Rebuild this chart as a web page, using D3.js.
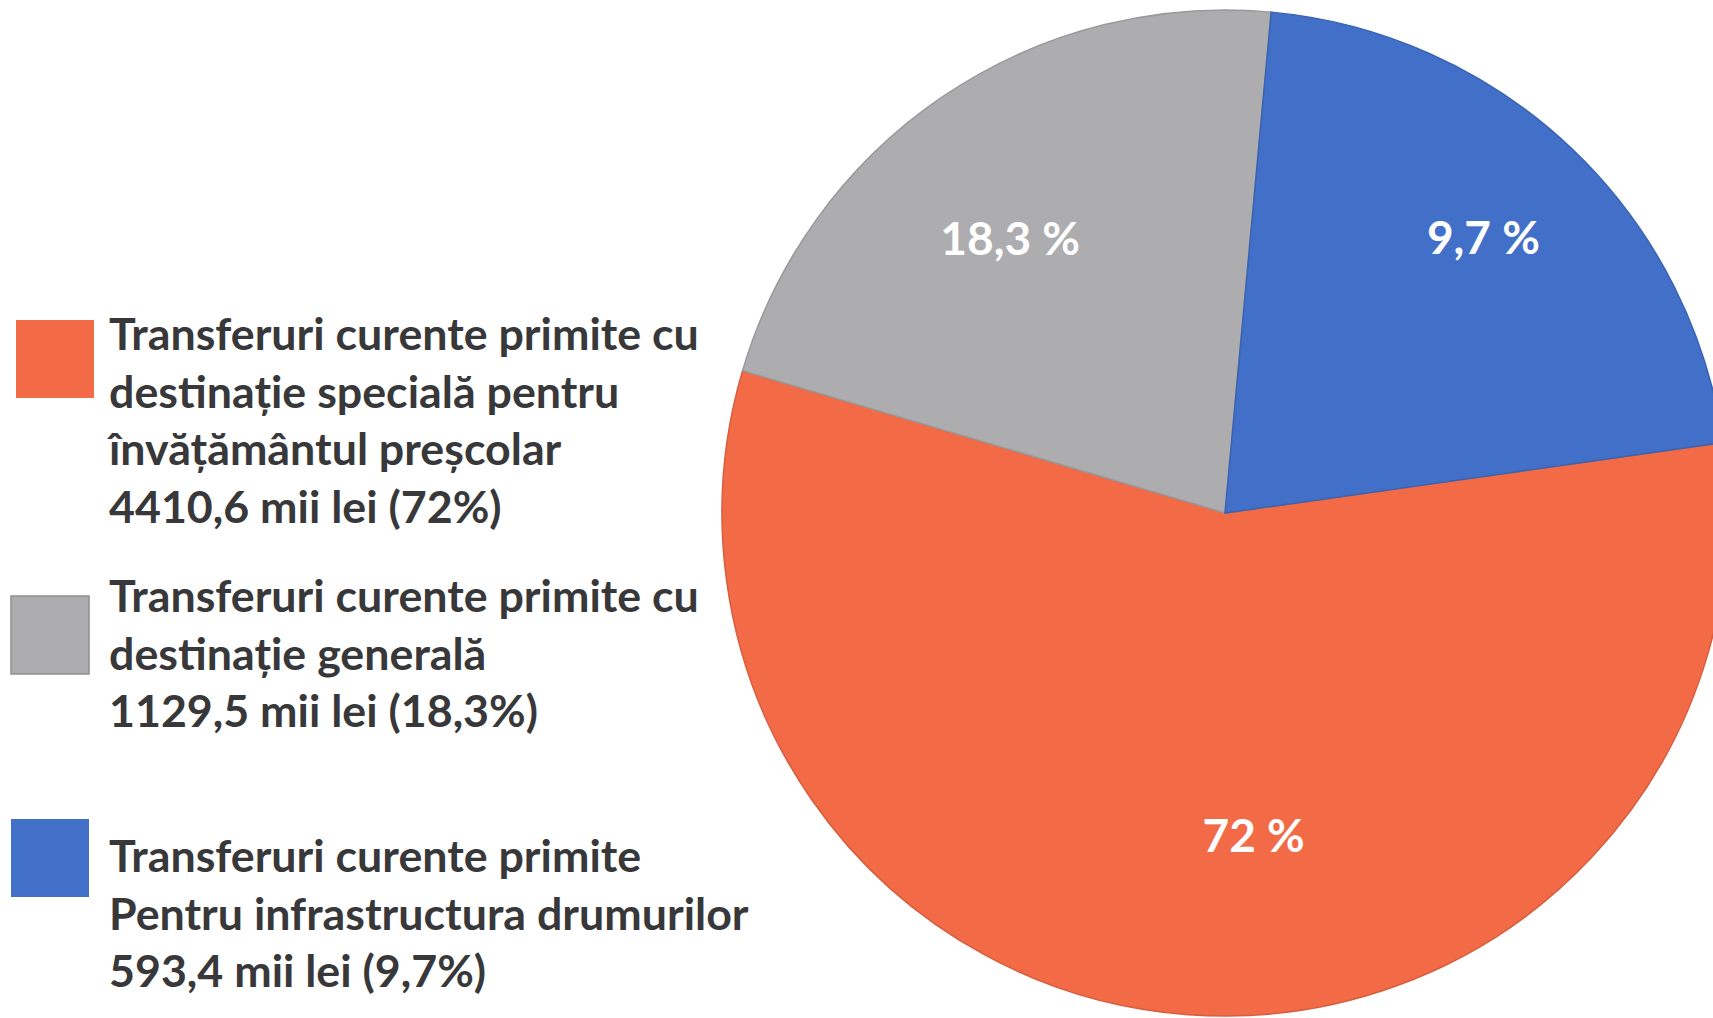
<!DOCTYPE html>
<html>
<head>
<meta charset="utf-8">
<script src="https://cdn.jsdelivr.net/npm/d3@7/dist/d3.min.js"></script>
<style>
  body { margin: 0; background: #fff; }
  svg { display: block; }
  .legend text { font-family: Lato, "Open Sans", sans-serif; font-weight: 700; fill: #38383a; }
  .slice-label { font-family: Lato, "Open Sans", sans-serif; font-weight: 700; fill: #fff; }
</style>
</head>
<body>
<div id="chart"></div>
<script>
// legend text, one array of lines per category
var legendLines = [
  ["Transferuri curente primite cu", "destinație specială pentru", "învățământul preșcolar"],
  ["Transferuri curente primite cu", "destinație generală"],
  ["Transferuri curente primite", "Pentru infrastructura drumurilor"]
];
var amounts = [4410.6, 1129.5, 593.4];          // mii lei
var legendPct = ["72%", "18,3%", "9,7%"];
var sliceLabels = ["72 %", "18,3 %", "9,7 %"];
// share of the circle each slice takes as it is drawn in the picture
var drawnShares = [56.8, 21.9, 21.3];
var colors = ["#F26B46", "#ADACAE", "#4270C8"];

var width = 1713, height = 1018;

var ro = d3.formatLocale({decimal: ",", thousands: "", grouping: [3], currency: ["", ""]});
var amountFormat = ro.format(".1f");

var svg = d3.select("#chart").append("svg")
    .attr("width", width)
    .attr("height", height);

svg.append("rect").attr("width", width).attr("height", height).attr("fill", "#fff");

// pie
var cx = 1225, cy = 513, radius = 503;
var deg = Math.PI / 180;

var pie = d3.pie()
    .sort(null)
    .value(function(d) { return d; })
    .startAngle(81.95 * deg)
    .endAngle(81.95 * deg + 2 * Math.PI);

var arc = d3.arc().innerRadius(0).outerRadius(radius);
var labelArc = d3.arc().innerRadius(radius * 0.69).outerRadius(radius * 0.69);

var arcs = pie(drawnShares);

var g = svg.append("g").attr("transform", "translate(" + cx + "," + cy + ")");

g.selectAll(".slice")
  .data(arcs)
  .enter().append("path")
    .attr("class", "slice")
    .attr("d", arc)
    .attr("fill", function(d, i) { return colors[i]; })
    .attr("stroke", function(d, i) { return d3.color(colors[i]).darker(0.35); })
    .attr("stroke-width", 1.5);

// small nudges so the labels sit where the picture has them
var labelNudge = [[54, -23], [-20, 13], [19, -24]];

g.selectAll(".slice-label")
  .data(arcs)
  .enter().append("text")
    .attr("class", "slice-label")
    .attr("transform", function(d, i) {
      var c = labelArc.centroid(d);
      return "translate(" + (c[0] + labelNudge[i][0]) + "," + (c[1] + labelNudge[i][1]) + ")";
    })
    .attr("text-anchor", "middle")
    .attr("dy", "0.35em")
    .style("font-size", "46px")
    .text(function(d, i) { return sliceLabels[i]; });

// legend
var swatchX = [16, 11, 11],
    swatchY = [320, 596, 819],
    swatchSize = 78,
    textX = 109,
    firstBaseline = [350, 612, 872],
    lineHeight = 57.5,
    targetWidth = 590; // width of "Transferuri curente primite cu" in the picture

var legend = svg.append("g").attr("class", "legend");

legend.selectAll("rect")
  .data(colors)
  .enter().append("rect")
    .attr("x", function(d, i) { return swatchX[i]; })
    .attr("y", function(d, i) { return swatchY[i]; })
    .attr("width", swatchSize)
    .attr("height", swatchSize)
    .attr("fill", function(d) { return d; })
    .attr("stroke", function(d, i) { return i === 1 ? "#8f8f91" : "none"; })
    .attr("stroke-width", 1.5);

var allLines = [];
legendLines.forEach(function(lines, i) {
  var full = lines.concat([amountFormat(amounts[i]) + " mii lei (" + legendPct[i] + ")"]);
  full.forEach(function(t, j) {
    allLines.push({text: t, y: firstBaseline[i] + j * lineHeight});
  });
});

var texts = legend.selectAll("text")
  .data(allLines)
  .enter().append("text")
    .style("font-size", "43px")
    .text(function(d) { return d.text; });

// squeeze the text horizontally so it has the narrow look of the original
var sx = targetWidth / texts.nodes()[0].getComputedTextLength();
texts.attr("transform", function(d) { return "translate(" + textX + "," + d.y + ") scale(" + sx + ",1)"; });
</script>
</body>
</html>
